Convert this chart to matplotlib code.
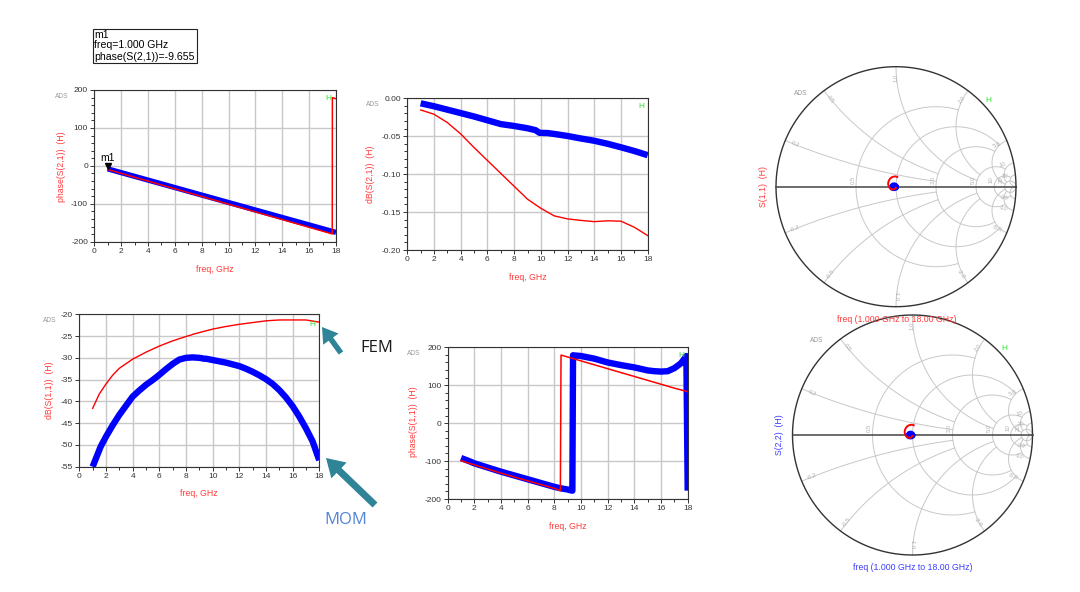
import numpy as np
import matplotlib
matplotlib.use("Agg")
import matplotlib.pyplot as plt
from matplotlib.patches import FancyArrow, Rectangle
from matplotlib.ticker import MultipleLocator, FormatStrFormatter
import matplotlib.transforms as mtransforms

plt.rcParams['font.family'] = ['Liberation Sans', 'DejaVu Sans']
plt.rcParams['axes.unicode_minus'] = False

# ---------------- data ----------------
# phase(S(2,1))
s21_fem_ph_freq = [1.0, 4.0, 8.0, 12.0, 16.0, 17.72, 17.73, 18.0]
s21_fem_phase = [-9.655, -40.2, -80.8, -121.4, -162.0, -179.5, 179.8, 177.0]
s21_mom_ph_freq = [1.0, 4.0, 8.0, 12.0, 16.0, 18.0]
s21_mom_phase = [-8.0, -37.5, -77.0, -116.4, -155.8, -175.5]

# dB(S(2,1))
s21_fem_db_freq = [1, 2, 3, 4, 5, 6, 7, 8, 9, 10, 11, 12, 13, 14, 15, 16, 17, 18]
s21_fem_db = [-0.0154, -0.021, -0.032, -0.047, -0.065, -0.082, -0.099, -0.116, -0.133,
              -0.145, -0.155, -0.159, -0.161, -0.1626, -0.1615, -0.162, -0.170, -0.181]
s21_mom_db_freq = [1, 2, 3, 4, 5, 6, 7, 8, 9, 9.6, 9.9, 10.5, 11, 12, 13, 14, 15, 16, 17, 18]
s21_mom_db = [-0.0066, -0.0105, -0.015, -0.0195, -0.024, -0.029, -0.034, -0.0365, -0.0395,
              -0.042, -0.0455, -0.0458, -0.047, -0.0497, -0.053, -0.056, -0.060, -0.0646,
              -0.0695, -0.075]

# S(1,1) FEM (red): magnitude in dB and phase in degrees
s11_fem_freq = [1, 1.5, 2, 2.5, 3, 4, 5, 6, 7, 8, 8.45, 8.5, 9, 10, 11, 12, 13, 14, 15,
                16, 17, 18]
s11_fem_db = [-41.6, -38.3, -36.0, -34.0, -32.4, -30.3, -28.7, -27.3, -26.1, -25.1, -24.7,
              -24.6, -24.2, -23.4, -22.8, -22.3, -21.9, -21.5, -21.3, -21.3, -21.3, -21.8]
s11_fem_phase = [-99, -104.5, -110, -115.5, -121, -132, -142, -152, -162, -172, -178, 179.5,
                 174.4, 164.1, 153.9, 143.6, 133.3, 123.1, 112.8, 102.6, 92.3, 83]

# S(1,1) MOM (blue)
s11_mom_freq = [1, 1.3, 1.6, 2, 2.5, 3, 3.5, 4, 4.5, 5, 5.5, 6, 6.5, 7, 7.5, 8, 8.5, 9,
                9.2, 9.35, 9.4, 9.5, 10, 10.5, 11, 11.5, 12, 12.5, 13, 13.5, 14, 14.5, 15,
                15.5, 16, 16.5, 17, 17.5, 17.9, 18]
s11_mom_db = [-55.0, -52.7, -50.4, -48.1, -45.5, -43.1, -41.0, -38.9, -37.5, -36.2, -35.1,
              -33.9, -32.6, -31.4, -30.4, -30.0, -29.9, -30.0, -30.1, -30.2, -30.2, -30.2,
              -30.5, -30.8, -31.1, -31.5, -31.9, -32.5, -33.2, -34.0, -34.9, -36.0, -37.4,
              -39.1, -41.1, -43.5, -46.2, -49.2, -52.7, -53.5]
s11_mom_phase = [-92, -96, -100, -106, -111.5, -117, -122.5, -128, -133, -138, -143, -148,
                 -153, -158, -163, -168, -172, -175, -177, -178, 179, 178.5, 177, 173.5,
                 170, 165, 160, 156.5, 153, 150, 147, 143, 139, 137, 136, 137, 145, 158,
                 177, -178]

# S(2,2) (symmetric structure, same response as S(1,1))
s22_fem_db, s22_fem_phase = s11_fem_db, s11_fem_phase
s22_mom_db, s22_mom_phase = s11_mom_db, s11_mom_phase

marker_freq = s21_fem_ph_freq[0]
marker_phase = s21_fem_phase[0]

# Smith chart grid values
smith_r = [0.5, 1.0, 2.0, 5.0, 10.0, 20.0]
smith_r_xmax = [2.0, 5.0, 5.0, 10.0, 20.0, 1e9]
smith_x = [0.2, 0.5, 1.0, 2.0, 5.0, 10.0, 20.0]
smith_x_rmax = [2.0, 2.0, 5.0, 5.0, 20.0, 20.0, 1e9]

# ---------------- style ----------------
RED = '#ff0000'
BLUE = '#0000ff'
LRED = '#ff3b3b'
LBLUE = '#3d3dff'
GRID = '#c8c8c8'
TEAL = '#2f8497'
HGREEN = '#2ee62e'

W, H = 1080, 592
fig = plt.figure(figsize=(10.8, 5.92), dpi=100)


def px_axes(x0, y0, x1, y1):
    return fig.add_axes([x0 / W, 1 - y1 / H, (x1 - x0) / W, (y1 - y0) / H])


def setup_rect(ax, ylim, ymajor, yminor, yfmt):
    ax.set_xlim(0, 18)
    ax.set_ylim(*ylim)
    ax.xaxis.set_major_locator(MultipleLocator(2))
    ax.xaxis.set_minor_locator(MultipleLocator(1))
    ax.yaxis.set_major_locator(MultipleLocator(ymajor))
    if yminor:
        ax.yaxis.set_minor_locator(MultipleLocator(yminor))
    ax.yaxis.set_major_formatter(FormatStrFormatter(yfmt))
    ax.grid(True, which='major', color=GRID, lw=1.0)
    ax.set_axisbelow(True)
    ax.tick_params(which='both', direction='out', color='#333333', labelsize=6,
                   labelcolor='#333333', width=0.7)
    ax.tick_params(which='major', length=3, pad=1.5)
    ax.tick_params(which='minor', length=2)
    for s in ax.spines.values():
        s.set_color('#333333')
        s.set_linewidth(0.8)


thick = dict(color=BLUE, solid_capstyle='butt', solid_joinstyle='round')

# top-left: phase(S(2,1))
ax1 = px_axes(94.3, 90, 336, 241.7)
setup_rect(ax1, (-200, 200), 100, 20, '%d')
ax1.plot(s21_mom_ph_freq, s21_mom_phase, lw=3.8, **thick)
ax1.plot(s21_fem_ph_freq, s21_fem_phase, color=RED, lw=1.1)
off = mtransforms.offset_copy(ax1.transData, fig=fig, y=2.3, units='points')
ax1.plot([marker_freq], [marker_phase], marker='v', ms=4.5, color='black',
         transform=off, clip_on=False)
ax1.annotate('m1', (marker_freq, marker_phase), xytext=(0, 8.5),
             textcoords='offset points', ha='center', va='center', fontsize=7.5)

# top-middle: dB(S(2,1))
ax2 = px_axes(407.3, 98.3, 647.7, 250)
setup_rect(ax2, (-0.20, 0.0), 0.05, 0.01, '%.2f')
ax2.plot(s21_mom_db_freq, s21_mom_db, lw=4.6, **thick)
ax2.plot(s21_fem_db_freq, s21_fem_db, color=RED, lw=1.0)

# bottom-left: dB(S(1,1))
ax3 = px_axes(79.3, 314.3, 319.3, 466.7)
setup_rect(ax3, (-55, -20), 5, None, '%d')
ax3.plot(s11_mom_freq, s11_mom_db, lw=4.6, **thick)
ax3.plot(s11_fem_freq, s11_fem_db, color=RED, lw=1.0)

# bottom-middle: phase(S(1,1))
ax4 = px_axes(447.7, 347.3, 687.7, 499)
setup_rect(ax4, (-200, 200), 100, 20, '%d')
ax4.plot(s11_mom_freq, s11_mom_phase, lw=4.6, **thick)
ax4.plot(s11_fem_freq, s11_fem_phase, color=RED, lw=1.1)


# Smith charts
def smith_axes(cx, cy, rad):
    half = rad + 2
    ax = px_axes(cx - half, cy - half, cx + half, cy + half)
    lim = half / rad
    ax.set_xlim(-lim, lim)
    ax.set_ylim(-lim, lim)
    ax.axis('off')
    for r, xm in zip(smith_r, smith_r_xmax):
        th = np.linspace(-np.arctan(xm), np.arctan(xm), 500)
        z = r + 1j * np.tan(th)
        g = (z - 1) / (z + 1)
        ax.plot(g.real, g.imag, color=GRID, lw=0.7)
        gl = (r - 1) / (r + 1)
        if r != 1.0:
            ax.text(gl - 0.025, 0.06, ('%.1f' % r) if r < 10 else '%d' % r,
                    rotation=90, fontsize=4.3, color='#b0b0b0', ha='center', va='center')
    for xv, rm in zip(smith_x, smith_x_rmax):
        ph = np.linspace(0, np.arctan(rm), 500)
        for sgn in (1, -1):
            z = np.tan(ph) + 1j * sgn * xv
            g = (z - 1) / (z + 1)
            ax.plot(g.real, g.imag, color=GRID, lw=0.7)
            gb = (1j * sgn * xv - 1) / (1j * sgn * xv + 1)
            ang = np.degrees(np.angle(gb))
            rot = ang
            if ang > 90:
                rot = ang - 180
            elif ang < -90:
                rot = ang + 180
            lab = ('%.1f' % xv) if xv < 10 else '%d' % xv
            if sgn < 0:
                lab = '-' + lab
            ax.text(0.91 * gb.real, 0.91 * gb.imag, lab, rotation=rot, fontsize=4.3,
                    color='#b0b0b0', ha='center', va='center')
    t = np.linspace(0, 2 * np.pi, 600)
    ax.plot(np.cos(t), np.sin(t), color='#333333', lw=1.0)
    ax.plot([-1, 1], [0, 0], color='#444444', lw=1.1)
    return ax


def gamma(db, phase):
    mag = 10 ** (np.asarray(db) / 20.0)
    return mag * np.exp(1j * np.radians(np.asarray(phase)))


ax5 = smith_axes(896, 186.7, 120)
g = gamma(s11_mom_db, s11_mom_phase)
ax5.plot(g.real, g.imag, color=BLUE, lw=4.5, solid_capstyle='round', solid_joinstyle='round')
g = gamma(s11_fem_db, s11_fem_phase)
ax5.plot(g.real, g.imag, color=RED, lw=1.4)

ax6 = smith_axes(912.5, 435, 120)
g = gamma(s22_mom_db, s22_mom_phase)
ax6.plot(g.real, g.imag, color=BLUE, lw=4.5, solid_capstyle='round', solid_joinstyle='round')
g = gamma(s22_fem_db, s22_fem_phase)
ax6.plot(g.real, g.imag, color=RED, lw=1.4)

# ---------------- overlay: labels, marker box, arrows ----------------
ov = fig.add_axes([0, 0, 1, 1])
ov.set_xlim(0, W)
ov.set_ylim(H, 0)
ov.axis('off')
ov.patch.set_alpha(0)

def t(x, y, s, **kw):
    kw.setdefault('ha', 'center')
    kw.setdefault('va', 'center')
    ov.text(x, y, s, **kw)

lab_fs = 6.3
# top-left
t(62, 96.5, 'ADS', fontsize=4.8, color='#9a9a9a')
t(328.5, 99, 'H', fontsize=6, color=HGREEN)
t(61.7, 166.7, 'phase(S(2,1))  (H)', rotation=90, fontsize=lab_fs, color=LRED)
t(215, 270, 'freq, GHz', fontsize=lab_fs, color=LRED)
# top-middle
t(372.3, 104.3, 'ADS', fontsize=4.8, color='#9a9a9a')
t(641, 106.7, 'H', fontsize=6, color=HGREEN)
t(370.7, 174, 'dB(S(2,1))  (H)', rotation=90, fontsize=lab_fs, color=LRED)
t(528.3, 277.7, 'freq, GHz', fontsize=lab_fs, color=LRED)
# bottom-left
t(50, 320.7, 'ADS', fontsize=4.8, color='#9a9a9a')
t(312.7, 324, 'H', fontsize=6, color=HGREEN)
t(49.3, 390, 'dB(S(1,1))  (H)', rotation=90, fontsize=lab_fs, color=LRED)
t(199.3, 494, 'freq, GHz', fontsize=lab_fs, color=LRED)
# bottom-middle
t(414, 353.3, 'ADS', fontsize=4.8, color='#9a9a9a')
t(681, 355.7, 'H', fontsize=6, color=HGREEN)
t(413.3, 421.7, 'phase(S(1,1))  (H)', rotation=90, fontsize=lab_fs, color=LRED)
t(567.7, 526.7, 'freq, GHz', fontsize=lab_fs, color=LRED)
# smith top
t(800.7, 93.3, 'ADS', fontsize=4.8, color='#9a9a9a')
t(988.3, 100.7, 'H', fontsize=6, color=HGREEN)
t(763.3, 186.7, 'S(1,1)  (H)', rotation=90, fontsize=lab_fs, color=LRED)
t(896.7, 319, 'freq (1.000 GHz to 18.00 GHz)', fontsize=lab_fs, color=LRED)
# smith bottom
t(816.7, 341, 'ADS', fontsize=4.8, color='#9a9a9a')
t(1004.3, 349, 'H', fontsize=6, color=HGREEN)
t(780, 435, 'S(2,2)  (H)', rotation=90, fontsize=lab_fs, color=LBLUE)
t(912.3, 567.3, 'freq (1.000 GHz to 18.00 GHz)', fontsize=lab_fs, color=LBLUE)

# marker readout box
ov.add_patch(Rectangle((92.7, 29.3), 104, 34, fill=False, edgecolor='#222222', lw=0.8))
t(94.5, 34.5, 'm1', fontsize=7.6, ha='left')
t(94.5, 45.5, 'freq=%.3f GHz' % marker_freq, fontsize=7.6, ha='left')
t(94.5, 56.5, 'phase(S(2,1))=%.3f' % marker_phase, fontsize=7.6, ha='left')

# callout arrows and notes
ov.add_patch(FancyArrow(341, 353, -19, -26, width=5.5, head_width=19, head_length=15,
                        length_includes_head=True, color=TEAL, lw=0))
ov.add_patch(FancyArrow(375, 505, -49, -47, width=7, head_width=22, head_length=18,
                        length_includes_head=True, color=TEAL, lw=0))
t(376.5, 348.5, 'FEM', fontsize=12, color='#1a1a1a', family=['Open Sans', 'DejaVu Sans'])
t(346, 520.5, 'MOM', fontsize=12, color='#5284d6', family=['Open Sans', 'DejaVu Sans'])

fig.savefig('out.png', dpi=100, facecolor='white')
